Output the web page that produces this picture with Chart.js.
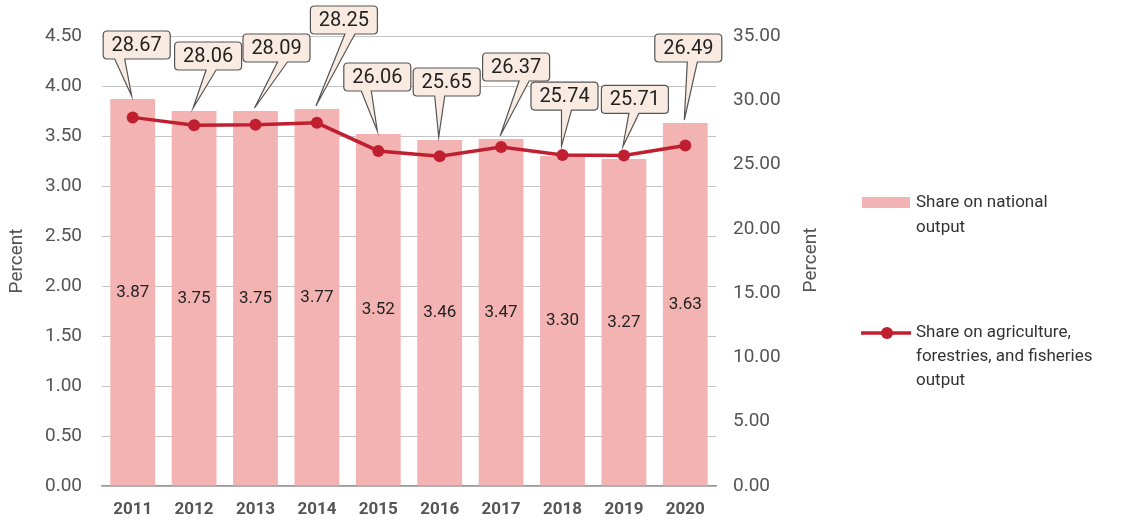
<!DOCTYPE html>
<html>
<head>
<meta charset="utf-8">
<script src="https://cdn.jsdelivr.net/npm/chart.js@4/dist/chart.umd.min.js"></script>
<style>
  html, body { margin: 0; padding: 0; background: #fff; }
  #wrap { width: 1127px; height: 528px; }
</style>
</head>
<body>
<div id="wrap"><canvas id="chart" width="1127" height="528"></canvas></div>
<script>
const years = ['2011', '2012', '2013', '2014', '2015', '2016', '2017', '2018', '2019', '2020'];
const nationalShare = [3.87, 3.75, 3.75, 3.77, 3.52, 3.46, 3.47, 3.30, 3.27, 3.63];
const agriShare = [28.67, 28.06, 28.09, 28.25, 26.06, 25.65, 26.37, 25.74, 25.71, 26.49];
const seriesNames = ['Share on national output', 'Share on agriculture, forestries, and fisheries output'];

// callout box placement relative to pointer tip: [dx, dy, pointer base dx from box centre]
const calloutOffsets = [[5, -51, -17], [15, -52, 3], [22, -60, 6], [28, -86, 6], [0, -54, -11],
                        [8, -55, -7], [16, -69, 8], [3, -50, 2], [12, -47, -1], [4, -72, 4]];

const FONT = 'Roboto, "Noto Sans", sans-serif';
const barColor = '#f4b3b3';
const lineColor = '#c01f30';

const labelsPlugin = {
    id: 'labels',
    afterDatasetsDraw(chart) {
        const ctx = chart.ctx;
        const bars = chart.getDatasetMeta(0).data;
        const points = chart.getDatasetMeta(1).data;
        ctx.save();

        // values inside the bars
        ctx.font = '17px ' + FONT;
        ctx.fillStyle = '#222';
        ctx.textAlign = 'center';
        ctx.textBaseline = 'middle';
        bars.forEach((bar, i) => {
            ctx.fillText(nationalShare[i].toFixed(2), bar.x, (bar.y + bar.base) / 2);
        });

        // callouts for the line values
        bars.forEach((bar, i) => {
            const tipX = bar.x - 1;
            const tipY = Math.min(bar.y, points[i].y - 6) - 3;
            const cx = tipX + calloutOffsets[i][0];
            const cy = tipY + calloutOffsets[i][1];
            const w = 67, h = 28, r = 4;
            const l = cx - w / 2, t = cy - h / 2, rt = cx + w / 2, b = cy + h / 2;
            const bx = cx + calloutOffsets[i][2];
            const bl = bx - 5, br = bx + 5;
            ctx.beginPath();
            ctx.moveTo(l + r, t);
            ctx.lineTo(rt - r, t);
            ctx.quadraticCurveTo(rt, t, rt, t + r);
            ctx.lineTo(rt, b - r);
            ctx.quadraticCurveTo(rt, b, rt - r, b);
            ctx.lineTo(br, b);
            ctx.lineTo(tipX, tipY);
            ctx.lineTo(bl, b);
            ctx.lineTo(l + r, b);
            ctx.quadraticCurveTo(l, b, l, b - r);
            ctx.lineTo(l, t + r);
            ctx.quadraticCurveTo(l, t, l + r, t);
            ctx.closePath();
            ctx.fillStyle = '#f9ebe1';
            ctx.fill();
            ctx.strokeStyle = '#555';
            ctx.lineWidth = 1.2;
            ctx.stroke();
            ctx.fillStyle = '#222';
            ctx.font = '20px ' + FONT;
            ctx.fillText(agriShare[i].toFixed(2), cx, cy + 1);
        });
        ctx.restore();
    },
    afterDraw(chart) {
        const ctx = chart.ctx;
        ctx.save();

        // right axis title, reading bottom to top like the left one
        ctx.font = '19px ' + FONT;
        ctx.fillStyle = '#555';
        ctx.textAlign = 'center';
        ctx.textBaseline = 'middle';
        ctx.translate(811, 260);
        ctx.rotate(-Math.PI / 2);
        ctx.fillText('Percent', 0, 0);
        ctx.setTransform(1, 0, 0, 1, 0, 0);

        // legend
        ctx.font = '17px ' + FONT;
        ctx.textAlign = 'left';
        ctx.fillStyle = barColor;
        ctx.fillRect(862, 197, 48, 11);
        ctx.fillStyle = '#333';
        ctx.fillText('Share on national', 916, 203);
        ctx.fillText('output', 916, 228);

        ctx.strokeStyle = lineColor;
        ctx.lineWidth = 3.5;
        ctx.beginPath();
        ctx.moveTo(861, 333);
        ctx.lineTo(911, 333);
        ctx.stroke();
        ctx.fillStyle = lineColor;
        ctx.beginPath();
        ctx.arc(887, 333, 6, 0, Math.PI * 2);
        ctx.fill();
        ctx.fillStyle = '#333';
        ctx.fillText('Share on agriculture,', 916, 333);
        ctx.fillText('forestries, and fisheries', 916, 357);
        ctx.fillText('output', 916, 381);
        ctx.restore();
    }
};

new Chart(document.getElementById('chart'), {
    type: 'bar',
    data: {
        labels: years,
        datasets: [{
            label: seriesNames[0],
            data: nationalShare,
            backgroundColor: barColor,
            borderWidth: 0,
            barPercentage: 0.73,
            categoryPercentage: 1,
            yAxisID: 'y',
            order: 1
        }, {
            type: 'line',
            label: seriesNames[1],
            data: agriShare,
            borderColor: lineColor,
            backgroundColor: lineColor,
            borderWidth: 3.5,
            pointRadius: 6,
            pointHoverRadius: 6,
            pointBorderWidth: 0,
            tension: 0,
            yAxisID: 'y1',
            order: 0
        }]
    },
    options: {
        responsive: false,
        animation: false,
        layout: {
            padding: { top: 36, right: 302, left: 0, bottom: 0 }
        },
        plugins: {
            legend: { display: false },
            tooltip: { enabled: false }
        },
        scales: {
            x: {
                grid: { display: false, drawTicks: false },
                border: { color: '#999', width: 1.5 },
                ticks: {
                    color: '#555',
                    font: { family: FONT, size: 17, weight: 'bold' },
                    padding: 14
                },
                afterFit(scale) { scale.height = 42; }
            },
            y: {
                position: 'left',
                min: 0,
                max: 4.5,
                ticks: {
                    stepSize: 0.5,
                    color: '#555',
                    font: { family: FONT, size: 19 },
                    padding: 20,
                    callback: v => v.toFixed(2)
                },
                grid: { color: '#c4c4c4', drawTicks: false },
                border: { display: false },
                title: {
                    display: true,
                    text: 'Percent',
                    color: '#555',
                    font: { family: FONT, size: 19 },
                    padding: { top: 6, bottom: 0 }
                },
                afterFit(scale) { scale.width = 102; }
            },
            y1: {
                position: 'right',
                min: 0,
                max: 35,
                ticks: {
                    stepSize: 5,
                    color: '#555',
                    font: { family: FONT, size: 19 },
                    padding: 17,
                    callback: v => v.toFixed(2)
                },
                grid: { display: false, drawTicks: false },
                border: { display: false },
                afterFit(scale) { scale.width = 109; }
            }
        }
    },
    plugins: [labelsPlugin]
});
</script>
</body>
</html>
